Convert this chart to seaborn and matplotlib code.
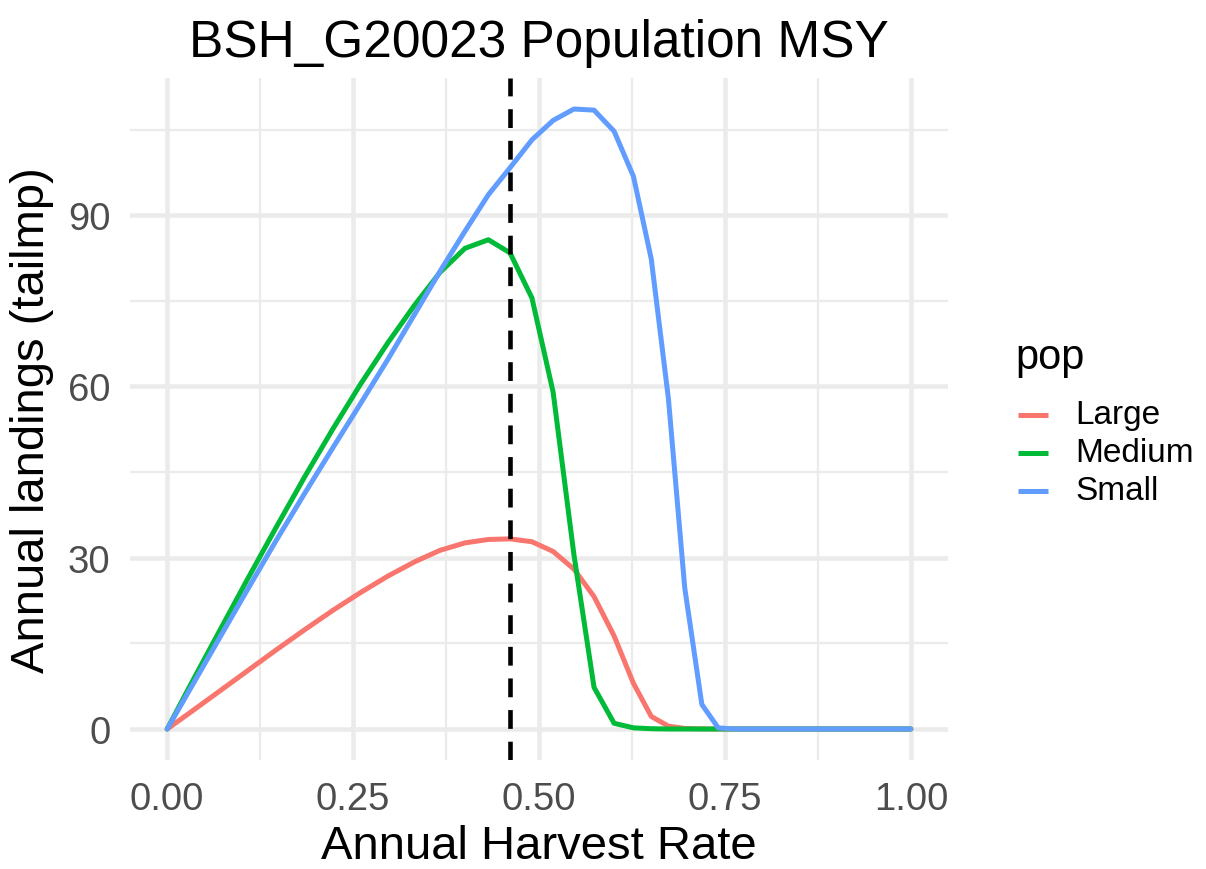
import matplotlib
matplotlib.use("Agg")
import matplotlib.pyplot as plt
from matplotlib.ticker import FixedLocator
from matplotlib.lines import Line2D
import seaborn as sns
import pandas as pd

# Harvest-rate grid shared by all populations
harvest_rate = [0.000, 0.030, 0.068, 0.107, 0.146, 0.185, 0.223, 0.260, 0.297,
                0.333, 0.367, 0.4005, 0.432, 0.461, 0.4905, 0.519, 0.547, 0.574,
                0.601, 0.627, 0.651, 0.674, 0.696, 0.719, 0.741, 0.762, 0.783,
                0.804, 0.824, 0.844, 0.864, 0.883, 0.902, 0.920, 0.938, 0.955,
                0.972, 0.987, 1.000]

# Annual landings (tailmp) per population
landings_large = [0.0, 2.8, 6.4, 10.1, 13.8, 17.4, 20.8, 23.9, 26.8,
                  29.3, 31.3, 32.6, 33.2, 33.3, 32.8, 31.1, 28.0, 23.2,
                  16.3, 8.0, 2.2, 0.5, 0.1, 0.02, 0.0, 0.0, 0.0,
                  0.0, 0.0, 0.0, 0.0, 0.0, 0.0, 0.0, 0.0, 0.0,
                  0.0, 0.0, 0.0]
landings_medium = [0.0, 7.4, 16.6, 26.0, 35.2, 44.2, 52.6, 60.4, 67.7,
                   74.3, 80.0, 84.2, 85.7, 83.4, 75.5, 59.0, 30.5, 7.3,
                   1.0, 0.2, 0.05, 0.0, 0.0, 0.0, 0.0, 0.0, 0.0,
                   0.0, 0.0, 0.0, 0.0, 0.0, 0.0, 0.0, 0.0, 0.0,
                   0.0, 0.0, 0.0]
landings_small = [0.0, 6.8, 15.4, 24.2, 32.9, 41.3, 49.3, 57.0, 64.8,
                  72.7, 80.2, 87.2, 93.6, 98.3, 103.2, 106.6, 108.6, 108.4,
                  104.7, 96.8, 82.3, 57.9, 24.7, 4.3, 0.2, 0.0, 0.0,
                  0.0, 0.0, 0.0, 0.0, 0.0, 0.0, 0.0, 0.0, 0.0,
                  0.0, 0.0, 0.0]

populations = ["Large", "Medium", "Small"]
pop_colors = ["#F8766D", "#00BA38", "#619CFF"]
msy_rate = 0.461

x_ticks = [0.0, 0.25, 0.5, 0.75, 1.0]
x_tick_labels = ["0.00", "0.25", "0.50", "0.75", "1.00"]
y_ticks = [0, 30, 60, 90]

df = pd.DataFrame({
    "rate": harvest_rate * 3,
    "landings": landings_large + landings_medium + landings_small,
    "pop": [p for p in populations for _ in harvest_rate],
})

sns.set_theme(style="white")
plt.rcParams["font.family"] = ["Liberation Sans", "DejaVu Sans"]

W, H = 1206, 870
fig = plt.figure(figsize=(W / 100, H / 100), dpi=100)
ax = fig.add_axes([130 / W, 1 - 761 / H, (948 - 130) / W, (761 - 79) / H])

grid_color = "#EBEBEB"
line_w = 3.6
sns.lineplot(data=df, x="rate", y="landings", hue="pop", hue_order=populations,
             palette=pop_colors, linewidth=line_w, ax=ax, legend=False, zorder=3)
ax.axvline(msy_rate, color="black", linewidth=3.3, linestyle=(0, (4.1, 2.8)),
           dash_capstyle="butt", zorder=4)

ymax = max(landings_small)
ax.set_xlim(-0.05, 1.05)
ax.set_ylim(-0.05 * ymax, 1.05 * ymax)

ax.xaxis.set_major_locator(FixedLocator(x_ticks))
ax.set_xticklabels(x_tick_labels)
ax.xaxis.set_minor_locator(FixedLocator([0.125, 0.375, 0.625, 0.875]))
ax.yaxis.set_major_locator(FixedLocator(y_ticks))
ax.yaxis.set_minor_locator(FixedLocator([15, 45, 75, 105]))

ax.grid(which="major", color=grid_color, linewidth=3.3, zorder=0)
ax.grid(which="minor", color=grid_color, linewidth=1.65, zorder=0)
ax.set_axisbelow(True)
for s in ax.spines.values():
    s.set_visible(False)

ax.tick_params(axis="both", which="both", length=0, labelsize=27.5,
               labelcolor="#4D4D4D")
ax.tick_params(axis="x", pad=15)
ax.tick_params(axis="y", pad=14)

ax.set_xlabel("Annual Harvest Rate", fontsize=34, color="black", labelpad=5)
ax.set_ylabel("Annual landings (tailmp)", fontsize=34, color="black", labelpad=10)
ax.set_title("BSH_G20023 Population MSY", fontsize=37, color="black", pad=16)

# Legend laid out in figure pixel coordinates
def fx(px):
    return px / W

def fy(py):
    return 1 - py / H

fig.text(fx(1015), fy(358), "pop", fontsize=30, ha="left", va="center",
         color="black")
key_rows = [416, 454, 492]
for name, color, row in zip(populations, pop_colors, key_rows):
    fig.add_artist(Line2D([fx(1018), fx(1048)], [fy(row), fy(row)],
                          transform=fig.transFigure, color=color,
                          linewidth=line_w, solid_capstyle="butt"))
    fig.text(fx(1075), fy(row), name, fontsize=24, ha="left", va="center",
             color="black")

fig.savefig("out.png", dpi=100, facecolor="white")
